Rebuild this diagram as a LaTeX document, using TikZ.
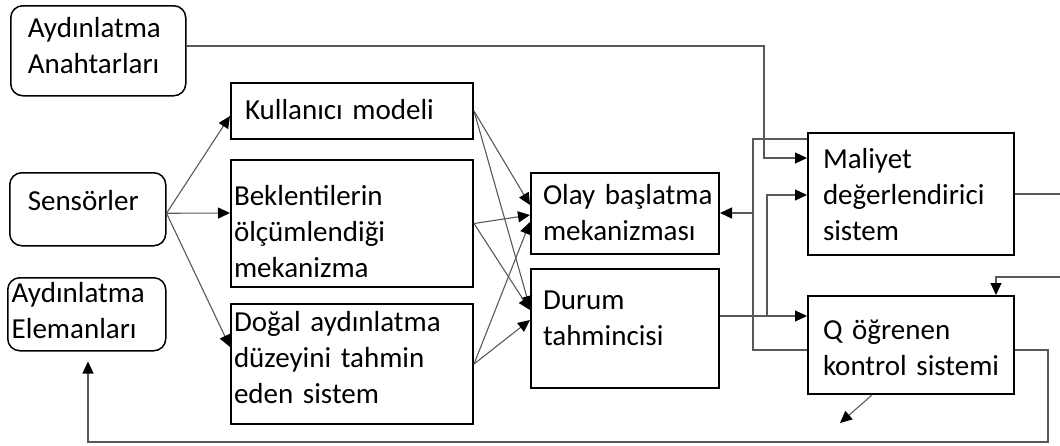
\documentclass[tikz,border=0pt]{standalone}
\usepackage{fontspec}
\setmainfont{Carlito}
\usetikzlibrary{arrows.meta,calc}
\hyphenpenalty=10000

\begin{document}
\begin{tikzpicture}[x=1pt,y=-1pt,
  font=\fontsize{29}{36}\selectfont,
  rbox/.style={draw, rounded corners=12pt, line width=1.5pt, anchor=north west,
               align=left, inner ysep=0pt},
  sbox/.style={draw, line width=2pt, anchor=north west, align=left, inner ysep=0pt},
  conn/.style={draw=black!65, line width=1.1pt},
  arr/.style={conn, -{Triangle[length=12pt,width=11pt,color=black]}},
]
\useasboundingbox (0,0) rectangle (1060,445);

% input and output blocks (rounded)
\node[rbox, inner xsep=17pt, text width=141pt, text height=32pt, text depth=58pt]
  (anah) at (10,5) {Aydınlatma\\Anahtarları};
\node[rbox, inner xsep=18pt, text width=120pt, text height=38pt, text depth=35pt]
  (sens) at (9,172) {Sensörler};
\node[rbox, inner xsep=4pt, text width=150pt, text height=25pt, text depth=48pt]
  (elem) at (7,277) {Aydınlatma\\Elemanları};

% processing blocks
\node[sbox, inner xsep=14pt, text width=214pt, text height=36pt, text depth=20pt]
  (kull) at (230,82) {Kullanıcı~modeli};
\node[sbox, inner xsep=3pt, text width=236pt, text height=45pt, text depth=82pt]
  (bekl) at (230,159) {Beklentilerin\\ölçümlendiği\\mekanizma};
\node[sbox, inner xsep=3pt, text width=236pt, text height=27pt, text depth=93pt]
  (dogal) at (230,303) {Doğal~aydınlatma\\düzeyini~tahmin\\eden~sistem};
\node[sbox, inner xsep=12pt, text width=164pt, text height=31pt, text depth=50pt]
  (olay) at (530,172) {Olay~başlatma\\mekanizması};
\node[sbox, inner xsep=12pt, text width=164pt, text height=40pt, text depth=79pt]
  (durum) at (530,268) {Durum\\tahmincisi};
\node[sbox, inner xsep=15pt, text width=176pt, text height=35pt, text depth=87pt]
  (mali) at (807,132) {Maliyet\\değerlendirici\\sistem};
\node[sbox, inner xsep=15pt, text width=176pt, text height=43pt, text depth=55pt]
  (qk) at (807,295) {Q~öğrenen\\\mbox{kontrol sistemi}};

% bend points and free ends
\coordinate (j0) at (764,46);
\coordinate (j1) at (753,213);
\coordinate (j2) at (767,316);
\coordinate (mr) at (1060,194);
\coordinate (qin) at (1060,277);
\coordinate (r1) at (1048,442);
\coordinate (qo) at (840,423);

% sensors feed the three estimators
\draw[arr] ($(sens.east)+(0,4)$) -- ($(kull.north west)+(0,34)$);
\draw[arr] ($(sens.east)+(0,4)$) -- ($(bekl.north west)+(0,54)$);
\draw[arr] ($(sens.east)+(0,4)$) -- ($(dogal.north west)+(0,44)$);

% estimators feed event trigger and state estimator
\draw[arr] (kull.east) -- ($(olay.north west)+(0,33)$);
\draw[arr] (kull.east) -- ($(durum.north west)+(0,40)$);
\draw[arr] (bekl.east) -- ($(olay.north west)+(0,43)$);
\draw[arr] (bekl.east) -- ($(durum.north west)+(0,42)$);
\draw[arr] (dogal.east) -- ($(olay.north west)+(0,50)$);
\draw[arr] (dogal.east) -- ($(durum.north west)+(0,52)$);

% switches to cost evaluator
\draw[arr] (anah.east |- j0) -- (j0) |- ($(mali.north west)+(0,26)$);

% cost evaluator and Q controller back to event trigger
\draw[conn] ($(mali.north west)+(0,7)$) -| (j1);
\draw[conn] ($(qk.north west)+(0,55)$) -| (j1);
\draw[arr] (j1) -- (olay.east |- j1);

% state estimator to Q controller and cost evaluator
\draw[arr] ($(durum.north east)+(0,48)$) -- ($(qk.north west)+(0,21)$);
\draw[arr] (j2) |- ($(mali.north west)+(0,63)$);

% cost evaluator output and Q controller input
\draw[conn] (mali.east |- mr) -- (mr);
\draw[arr] (qin) -| ($(qk.north west)+(189,0)$);

% Q controller to lighting elements
\draw[arr] ($(qk.north east)+(0,55)$) -| (r1) -| ($(elem.south west)+(81,10)$);
\draw[arr] ($(qk.south west)+(65,0)$) -- (qo);
\end{tikzpicture}
\end{document}
